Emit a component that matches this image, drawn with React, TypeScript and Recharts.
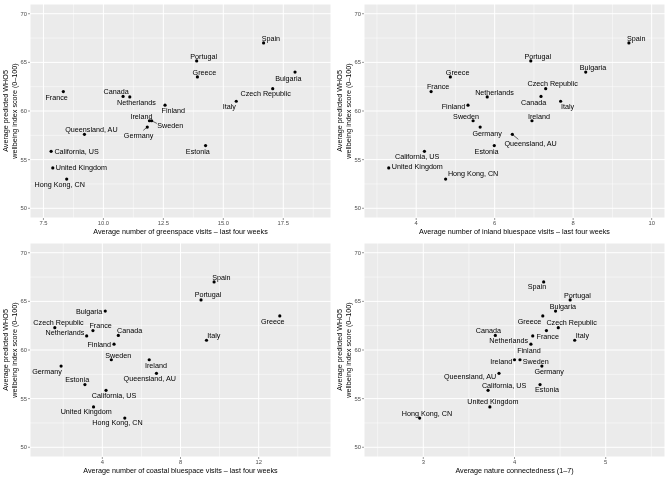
import { ScatterChart, Scatter, XAxis, YAxis, CartesianGrid, Label } from "recharts";

const countries = [
  "Spain", "Portugal", "Bulgaria", "Greece", "Czech Republic", "France",
  "Canada", "Netherlands", "Italy", "Finland", "Ireland", "Sweden",
  "Germany", "Queensland, AU", "Estonia", "California, US", "United Kingdom", "Hong Kong, CN",
];

// average predicted WHO5 score, shared by all four panels
const wellbeing = [67.0, 65.15, 64.0, 63.5, 62.3, 62.0, 61.5, 61.45, 61.0, 60.6, 59.0, 59.0, 58.35, 57.6, 56.45, 55.85, 54.15, 53.0];

const greenspaceVisits = [16.68, 13.89, 17.99, 13.92, 17.06, 8.33, 10.82, 11.1, 15.54, 12.57, 11.92, 12.01, 11.83, 9.21, 14.26, 7.82, 7.89, 8.47];
const inlandVisits = [9.42, 6.92, 8.32, 4.87, 7.3, 4.38, 7.18, 5.81, 7.68, 5.32, 6.95, 5.45, 5.63, 6.45, 5.99, 4.21, 3.3, 4.75];
const coastalVisits = [9.72, 9.05, 4.15, 13.08, 1.57, 3.52, 4.82, 3.2, 9.33, 4.6, 6.4, 4.46, 1.89, 6.77, 3.11, 4.19, 3.55, 5.15];
const connectedness = [4.32, 4.61, 4.45, 4.31, 4.48, 4.35, 3.79, 4.2, 4.66, 4.18, 4.0, 4.06, 4.3, 3.83, 4.28, 3.71, 3.73, 2.96];

const yTicks = [50, 55, 60, 65, 70];
const yMinor = [52.5, 57.5, 62.5, 67.5];

const FONT = "'Liberation Sans', Arial, Helvetica, sans-serif";

type Anchor = "start" | "middle" | "end";
type Place = [number, number, Anchor?, [number, number]?];

// repel-style label placement (px offset from the point)
const greenLabels: Record<string, Place> = {
  Spain: [7.3, -4.7], Portugal: [7, -4.7], Greece: [7, -4.7], Bulgaria: [-6.7, 6],
  "Czech Republic": [-7, 5.3], Italy: [-7, 5.3], France: [-6.7, 6], Canada: [-7, -5],
  Netherlands: [6.7, 5.3], Finland: [8.3, 5.3], Ireland: [-8, -4.7],
  Sweden: [18.7, 4.7, "middle", [5.3, 2.7]], Germany: [-8.7, 8, "middle", [-4, 3.3]],
  "Queensland, AU": [7, -4.7], Estonia: [-7.7, 5.7], "California, US": [3.3, 0, "start"],
  "United Kingdom": [3, 0, "start"], "Hong Kong, CN": [-7, 5],
};

const inlandLabels: Record<string, Place> = {
  Spain: [7.3, -4.3], Portugal: [7, -4.7], Bulgaria: [7.3, -4.3], Greece: [7.3, -4.7],
  France: [7, -4.7], "Czech Republic": [7, -4.7], Netherlands: [7.3, -4.3], Canada: [-7.3, 5.7],
  Italy: [7, 5.7], Finland: [-2.7, 1, "end"], Sweden: [-7, -4.7], Germany: [7, 6],
  Ireland: [7, -4.7], "Queensland, AU": [18.3, 9.3, "middle", [6, 5]], Estonia: [-7.7, 5.7],
  "California, US": [-7.3, 5.3], "United Kingdom": [3, -1, "start"], "Hong Kong, CN": [2.3, -5.3, "start"],
};

const coastalLabels: Record<string, Place> = {
  Spain: [7.3, -4.7], Portugal: [7, -5.3], Greece: [-7, 5.3], Italy: [7.3, -4.3],
  Bulgaria: [-3, 0.7, "end"], "Czech Republic": [3.7, -5], France: [7.7, -4.7],
  Netherlands: [-2.3, -3, "end"], Canada: [11.3, -5], Finland: [-3, 0.7, "end"],
  Sweden: [7, -4.7], Ireland: [6.7, 5.3], Germany: [-14, 5.3], "Queensland, AU": [-6.7, 5],
  Estonia: [-7.7, -4.7], "California, US": [8, 4.7], "United Kingdom": [-7.3, 5], "Hong Kong, CN": [-7.3, 4.7],
};

const natureLabels: Record<string, Place> = {
  Spain: [-6.7, 5], Portugal: [7.3, -4.7], Bulgaria: [7.3, -5], Greece: [-13.3, 5.3],
  "Czech Republic": [13.3, -5], France: [1.3, 5.7], Netherlands: [-4.7, 4.3, "end"],
  Finland: [-2, 6.7], Canada: [-7, -5.3], Italy: [7.7, -4.3], Ireland: [-2.3, 1.3, "end"],
  Sweden: [2.7, 1.3, "start"], Germany: [7.3, 5.7], "Queensland, AU": [-2.7, 2.7, "end"],
  "California, US": [16, -4.7], Estonia: [7, 5.3], "United Kingdom": [3, -5], "Hong Kong, CN": [7.3, -5],
};

function makePoints(xs: number[]) {
  return countries.map((name, i) => ({ name, x: xs[i], y: wellbeing[i] }));
}

function pointShape(labels: Record<string, Place>) {
  return (props: any) => {
    const { cx, cy, payload } = props;
    const p = labels[payload.name] ?? [7, -5];
    const [dx, dy, anchor = "middle", seg] = p;
    return (
      <g>
        {seg && <line x1={cx} y1={cy} x2={cx + seg[0]} y2={cy + seg[1]} stroke="#000" strokeWidth={0.6} />}
        <circle cx={cx} cy={cy} r={1.6} fill="#000" />
        <text
          x={cx + dx}
          y={cy + dy}
          textAnchor={anchor}
          dominantBaseline="central"
          fontSize={7.2}
          fontFamily={FONT}
          fill="#000"
        >
          {payload.name}
        </text>
      </g>
    );
  };
}

function YTitle(props: any) {
  const vb = props.viewBox ?? { y: 4, height: 214 };
  const cy = vb.y + vb.height / 2;
  return (
    <g fontSize={7.2} fontFamily={FONT} fill="#000">
      <text x={7.7} y={cy} textAnchor="middle" transform={`rotate(-90, 7.7, ${cy})`}>
        Average predicted WHO5
      </text>
      <text x={16.9} y={cy} textAnchor="middle" transform={`rotate(-90, 16.9, ${cy})`}>
        wellbeing index score (0–100)
      </text>
    </g>
  );
}

function xTitle(title: string) {
  return (props: any) => {
    const vb = props.viewBox ?? { x: 30, y: 218, width: 301 };
    return (
      <text x={vb.x + vb.width / 2} y={233.5} textAnchor="middle" fontSize={7.2} fontFamily={FONT} fill="#000">
        {title}
      </text>
    );
  };
}

interface PanelProps {
  left: number;
  top: number;
  xs: number[];
  domain: [number, number];
  ticks: number[];
  minor: number[];
  title: string;
  labels: Record<string, Place>;
  fmt?: (v: number) => string;
}

function Panel({ left, top, xs, domain, ticks, minor, title, labels, fmt }: PanelProps) {
  return (
    <div style={{ position: "absolute", left, top }}>
      <ScatterChart width={334} height={240} margin={{ top: 4, right: 3, bottom: 0, left: 0 }}>
        <CartesianGrid
          fill="#EBEBEB"
          stroke="#FFFFFF"
          strokeWidth={0.5}
          horizontalValues={yMinor}
          verticalValues={minor}
        />
        <CartesianGrid stroke="#FFFFFF" strokeWidth={1} fill="none" />
        <XAxis
          type="number"
          dataKey="x"
          domain={domain}
          ticks={ticks}
          interval={0}
          allowDataOverflow
          height={22}
          axisLine={false}
          tickLine={{ stroke: "#333333", strokeWidth: 0.5 }}
          tickSize={2}
          tickMargin={1}
          tick={{ fill: "#4D4D4D", fontSize: 5.8, fontFamily: FONT }}
          tickFormatter={fmt}
        >
          <Label content={xTitle(title)} />
        </XAxis>
        <YAxis
          type="number"
          dataKey="y"
          domain={[49, 71]}
          ticks={yTicks}
          interval={0}
          allowDataOverflow
          width={30}
          axisLine={false}
          tickLine={{ stroke: "#333333", strokeWidth: 0.5 }}
          tickSize={2}
          tickMargin={1}
          tick={{ fill: "#4D4D4D", fontSize: 5.8, fontFamily: FONT }}
        >
          <Label content={YTitle} />
        </YAxis>
        <Scatter data={makePoints(xs)} isAnimationActive={false} shape={pointShape(labels)} />
      </ScatterChart>
    </div>
  );
}

export default function App() {
  return (
    <div
      style={{
        position: "absolute",
        left: 0,
        top: 0,
        width: 668,
        height: 479,
        background: "#FFFFFF",
        filter: "grayscale(1)",
      }}
    >
      <Panel
        left={0}
        top={0}
        xs={greenspaceVisits}
        domain={[6.94, 19.49]}
        ticks={[7.5, 10, 12.5, 15, 17.5]}
        minor={[8.75, 11.25, 13.75, 16.25, 18.75]}
        title="Average number of greenspace visits – last four weeks"
        labels={greenLabels}
        fmt={(v) => v.toFixed(1)}
      />
      <Panel
        left={334}
        top={0}
        xs={inlandVisits}
        domain={[2.67, 10.34]}
        ticks={[4, 6, 8, 10]}
        minor={[3, 5, 7, 9]}
        title="Average number of inland bluespace visits – last four weeks"
        labels={inlandLabels}
      />
      <Panel
        left={0}
        top={239}
        xs={coastalVisits}
        domain={[0.3, 15.7]}
        ticks={[4, 8, 12]}
        minor={[2, 6, 10, 14]}
        title="Average number of coastal bluespace visits – last four weeks"
        labels={coastalLabels}
      />
      <Panel
        left={334}
        top={239}
        xs={connectedness}
        domain={[2.35, 5.65]}
        ticks={[3, 4, 5]}
        minor={[2.5, 3.5, 4.5, 5.5]}
        title="Average nature connectedness (1–7)"
        labels={natureLabels}
      />
    </div>
  );
}
